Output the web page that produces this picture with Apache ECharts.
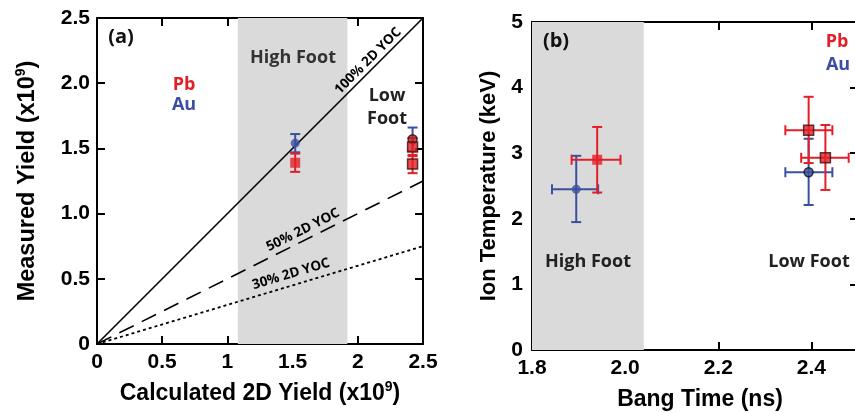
<!DOCTYPE html>
<html>
<head>
<meta charset="utf-8">
<script src="https://cdn.jsdelivr.net/npm/echarts@6/dist/echarts.min.js"></script>
<style>
  html, body { margin: 0; padding: 0; background: #fff; }
  #chart { width: 855px; height: 413px; }
</style>
</head>
<body>
<div id="chart"></div>
<script>
// (a) yields, x10^9
var aPbX = [1.52, 2.42, 2.42];
var aPbY = [1.39, 1.51, 1.38];
var aPbErr = [0.07, 0.07, 0.07];
var aAuX = [1.52, 2.42];
var aAuY = [1.54, 1.57];
var aAuErr = [0.07, 0.09];
var yocFractions = [1.0, 0.5, 0.3];
var aBand = [1.08, 1.92];

// (b) ion temperature vs bang time
var bPbX = [1.94, 2.394, 2.43];
var bPbY = [2.9, 3.35, 2.93];
var bPbXlo = [1.885, 2.344, 2.378];
var bPbXhi = [1.99, 2.445, 2.48];
var bPbYlo = [2.4, 2.85, 2.44];
var bPbYhi = [3.4, 3.86, 3.43];
var bAuX = [1.895, 2.394];
var bAuY = [2.45, 2.71];
var bAuXlo = [1.843, 2.344];
var bAuXhi = [1.942, 2.445];
var bAuYlo = [1.95, 2.21];
var bAuYhi = [2.96, 3.22];
var bBand = [1.8, 2.04];

var RED = '#e31e26';
var BLUE = '#3b4fa0';
var tickFont = { fontFamily: 'Liberation Sans', fontWeight: 'bold', fontSize: 21, color: '#000' };

function errRows(x, y, xlo, xhi, ylo, yhi) {
  return x.map(function (v, i) { return [v, y[i], xlo[i], xhi[i], ylo[i], yhi[i]]; });
}

function errRender(color) {
  return function (params, api) {
    var x = api.value(0), y = api.value(1);
    var xl = api.value(2), xh = api.value(3), yl = api.value(4), yh = api.value(5);
    var st = { stroke: color, lineWidth: 2 };
    var kids = [];
    var cap = 5;
    if (yl !== yh) {
      var p1 = api.coord([x, yl]), p2 = api.coord([x, yh]);
      kids.push({ type: 'line', shape: { x1: p1[0], y1: p1[1], x2: p2[0], y2: p2[1] }, style: st });
      kids.push({ type: 'line', shape: { x1: p1[0] - cap, y1: p1[1], x2: p1[0] + cap, y2: p1[1] }, style: st });
      kids.push({ type: 'line', shape: { x1: p2[0] - cap, y1: p2[1], x2: p2[0] + cap, y2: p2[1] }, style: st });
    }
    if (xl !== xh) {
      var q1 = api.coord([xl, y]), q2 = api.coord([xh, y]);
      kids.push({ type: 'line', shape: { x1: q1[0], y1: q1[1], x2: q2[0], y2: q2[1] }, style: st });
      kids.push({ type: 'line', shape: { x1: q1[0], y1: q1[1] - cap, x2: q1[0], y2: q1[1] + cap }, style: st });
      kids.push({ type: 'line', shape: { x1: q2[0], y1: q2[1] - cap, x2: q2[0], y2: q2[1] + cap }, style: st });
    }
    return { type: 'group', children: kids };
  };
}

function axisBase(extra) {
  var o = {
    axisLine: { show: true, onZero: false, lineStyle: { color: '#000', width: 2 } },
    axisTick: { show: true, inside: true, length: 8, lineStyle: { color: '#000', width: 2 } },
    splitLine: { show: false },
    axisLabel: Object.assign({ margin: 8 }, tickFont)
  };
  return Object.assign(o, extra);
}

function mirror(extra) {
  return axisBase(Object.assign({ axisLabel: { show: false } }, extra));
}

var nameRich = {
  a: { fontFamily: 'Liberation Sans', fontWeight: 'bold', fontSize: 23.5, color: '#000' },
  s: { fontFamily: 'Liberation Sans', fontWeight: 'bold', fontSize: 14, color: '#000', verticalAlign: 'top', padding: [0, 0, 14, 0] }
};
var nameRichX = {
  a: { fontFamily: 'Liberation Sans', fontWeight: 'bold', fontSize: 23, color: '#000' },
  s: { fontFamily: 'Liberation Sans', fontWeight: 'bold', fontSize: 14, color: '#000', verticalAlign: 'top', padding: [0, 0, 14, 0] }
};
var nameFontX = { fontFamily: 'Liberation Sans', fontWeight: 'bold', fontSize: 23, color: '#000' };
var nameFontY = { fontFamily: 'Liberation Sans', fontWeight: 'bold', fontSize: 22, color: '#000' };

var aPbRows = errRows(aPbX, aPbY, aPbX, aPbX,
  aPbY.map(function (v, i) { return v - aPbErr[i]; }), aPbY.map(function (v, i) { return v + aPbErr[i]; }));
var aAuRows = errRows(aAuX, aAuY, aAuX, aAuX,
  aAuY.map(function (v, i) { return v - aAuErr[i]; }), aAuY.map(function (v, i) { return v + aAuErr[i]; }));

var yocStyles = ['solid', [16, 9], [3, 3]];
var yocSeries = yocFractions.map(function (f, i) {
  return {
    type: 'line', xAxisIndex: 0, yAxisIndex: 0, symbol: 'none', silent: true, z: 3,
    data: [[0, 0], [2.5, 2.5 * f]],
    lineStyle: { color: '#000', width: i === 2 ? 1.8 : 1.6, type: yocStyles[i] }
  };
});

function txt(x, y, s, size, color, rot) {
  return { type: 'text', x: x, y: y, rotation: rot || 0, z: 20,
    style: { text: s, font: 'bold ' + size + 'px "Open Sans"', fill: color, textAlign: 'center', textVerticalAlign: 'middle' } };
}

var option = {
  backgroundColor: '#fff',
  animation: false,
  grid: [
    { left: 97, top: 18, width: 326, height: 326, containLabel: false, outerBoundsMode: 'none' },
    { left: 532, top: 22, width: 326, height: 328, containLabel: false, outerBoundsMode: 'none' }
  ],
  xAxis: [
    axisBase({ gridIndex: 0, type: 'value', min: 0, max: 2.5, interval: 0.5,
      axisLabel: Object.assign({ margin: 8, formatter: function (v) { return String(v); } }, tickFont),
      name: '{a|Calculated 2D Yield (x10}{s|9}{a|)}', nameLocation: 'middle', nameGap: 36,
      nameTextStyle: { rich: nameRichX } }),
    mirror({ gridIndex: 0, type: 'value', min: 0, max: 2.5, interval: 0.5, position: 'top' }),
    axisBase({ gridIndex: 1, type: 'value', min: 1.8, max: 2.5, interval: 0.2,
      axisLabel: Object.assign({ margin: 8, showMaxLabel: false, formatter: function (v) { return v.toFixed(1); } }, tickFont),
      name: 'Bang Time (ns)', nameLocation: 'middle', nameGap: 38,
      nameTextStyle: Object.assign({ padding: [0, 0, 0, 10] }, nameFontX) }),
    mirror({ gridIndex: 1, type: 'value', min: 1.8, max: 2.5, interval: 0.2, position: 'top' })
  ],
  yAxis: [
    axisBase({ gridIndex: 0, type: 'value', min: 0, max: 2.5, interval: 0.5,
      axisLabel: Object.assign({ margin: 7, formatter: function (v) { return v === 0 ? '0' : v.toFixed(1); } }, tickFont),
      name: '{a|Measured Yield (x10}{s|9}{a|)}', nameLocation: 'middle', nameGap: 55, nameRotate: 90,
      nameTextStyle: { rich: nameRich } }),
    mirror({ gridIndex: 0, type: 'value', min: 0, max: 2.5, interval: 0.5, position: 'right' }),
    axisBase({ gridIndex: 1, type: 'value', min: 0, max: 5, interval: 1,
      axisLabel: Object.assign({ margin: 9 }, tickFont),
      name: 'Ion Temperature (keV)', nameLocation: 'middle', nameGap: 32, nameRotate: 90,
      nameTextStyle: nameFontY }),
    mirror({ gridIndex: 1, type: 'value', min: 0, max: 5, interval: 1, position: 'right' })
  ],
  series: [
    // shaded bands
    { type: 'line', xAxisIndex: 0, yAxisIndex: 0, data: [], silent: true, z: 1,
      markArea: { silent: true, itemStyle: { color: '#dadada' }, data: [[{ xAxis: aBand[0] }, { xAxis: aBand[1] }]] } },
    { type: 'line', xAxisIndex: 2, yAxisIndex: 2, data: [], silent: true, z: 1,
      markArea: { silent: true, itemStyle: { color: '#dadada' }, data: [[{ xAxis: bBand[0] }, { xAxis: bBand[1] }]] } }
  ].concat(yocSeries).concat([
    // (a) error bars
    { type: 'custom', xAxisIndex: 0, yAxisIndex: 0, renderItem: errRender(BLUE), data: aAuRows, z: 4 },
    { type: 'custom', xAxisIndex: 0, yAxisIndex: 0, renderItem: errRender(RED), data: aPbRows, z: 5 },
    { type: 'scatter', xAxisIndex: 0, yAxisIndex: 0, symbol: 'circle', symbolSize: 9, z: 6,
      data: aAuX.map(function (v, i) {
        return i === 0 ? [v, aAuY[i]] : { value: [v, aAuY[i]], itemStyle: { color: '#b3262b', borderColor: '#2a1010', borderWidth: 1.5 } };
      }),
      itemStyle: { color: BLUE } },
    { type: 'scatter', xAxisIndex: 0, yAxisIndex: 0, symbol: 'rect', symbolSize: 10, z: 7,
      data: aPbX.map(function (v, i) {
        return i === 0 ? [v, aPbY[i]] : { value: [v, aPbY[i]], itemStyle: { color: RED, borderColor: '#3a0e0e', borderWidth: 1.5 } };
      }),
      itemStyle: { color: RED } },
    // (b) error bars
    { type: 'custom', xAxisIndex: 2, yAxisIndex: 2, renderItem: errRender(BLUE),
      data: errRows(bAuX, bAuY, bAuXlo, bAuXhi, bAuYlo, bAuYhi), z: 4 },
    { type: 'custom', xAxisIndex: 2, yAxisIndex: 2, renderItem: errRender(RED),
      data: errRows(bPbX, bPbY, bPbXlo, bPbXhi, bPbYlo, bPbYhi), z: 5 },
    { type: 'scatter', xAxisIndex: 2, yAxisIndex: 2, symbol: 'circle', symbolSize: 9, z: 6,
      data: bAuX.map(function (v, i) {
        return i === 0 ? [v, bAuY[i]] : { value: [v, bAuY[i]], itemStyle: { color: BLUE, borderColor: '#111', borderWidth: 1.5 } };
      }),
      itemStyle: { color: BLUE } },
    { type: 'scatter', xAxisIndex: 2, yAxisIndex: 2, symbol: 'rect', symbolSize: 10, z: 7,
      data: bPbX.map(function (v, i) {
        return i === 0 ? [v, bPbY[i]] : { value: [v, bPbY[i]], itemStyle: { color: RED, borderColor: '#3a0e0e', borderWidth: 1.5 } };
      }),
      itemStyle: { color: RED } }
  ]),
  graphic: [
    txt(121, 37, '(a)', 20, '#111'),
    txt(293, 58, 'High Foot', 18, '#333'),
    txt(184, 85, 'Pb', 18, RED),
    txt(184, 105, 'Au', 18, BLUE),
    txt(387, 96, 'Low', 18, '#222'),
    txt(387, 119, 'Foot', 18, '#222'),
    txt(368, 61, '100% 2D YOC', 13.5, '#000', Math.PI / 4),
    txt(303, 230, '50% 2D YOC', 13.5, '#000', Math.atan(0.5)),
    txt(291, 274, '30% 2D YOC', 13.5, '#000', Math.atan(0.3)),
    txt(556, 41, '(b)', 20, '#111'),
    txt(837, 42, 'Pb', 18, RED),
    txt(838, 65, 'Au', 18, BLUE),
    txt(588, 262, 'High Foot', 18, '#222'),
    txt(809, 262, 'Low Foot', 18, '#222')
  ]
};

var chart = echarts.init(document.getElementById('chart'));
chart.setOption(option);
</script>
</body>
</html>
